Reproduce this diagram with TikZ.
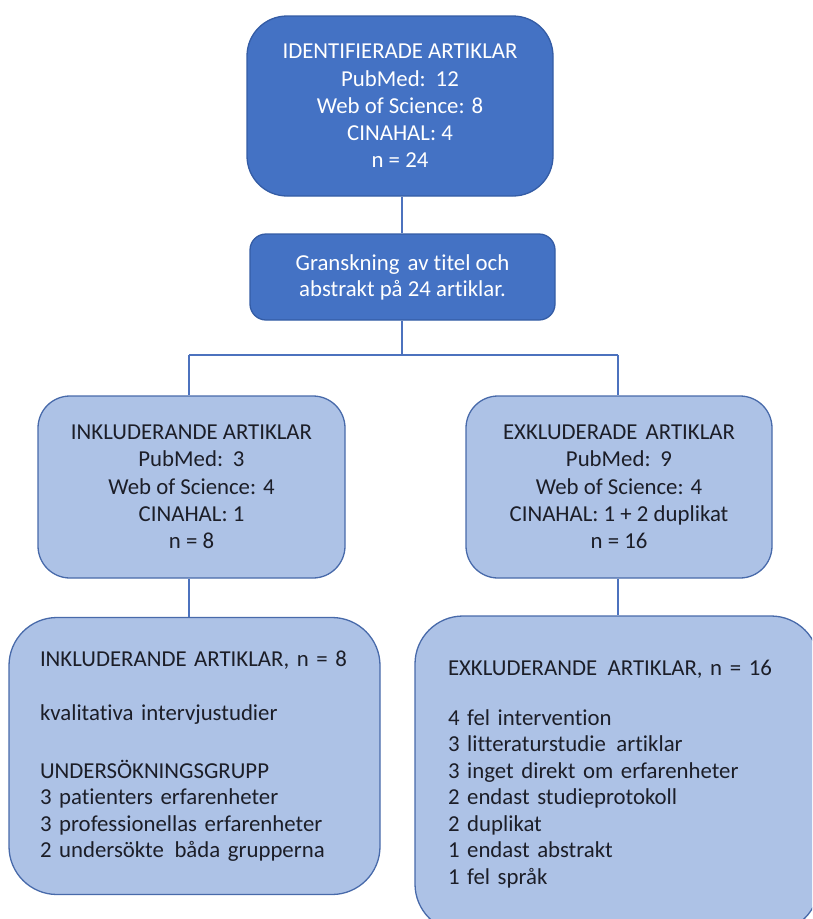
\documentclass[tikz,border=0pt]{standalone}
\usepackage{fontspec}
\setmainfont{Carlito}[RawFeature=-liga]
\definecolor{darkfill}{RGB}{68,114,196}
\definecolor{darkline}{RGB}{52,92,165}
\definecolor{lightfill}{RGB}{173,194,230}
\definecolor{lightline}{RGB}{72,106,170}
\definecolor{conn}{RGB}{76,114,190}
\definecolor{txt}{RGB}{28,30,40}
\newcommand{\gapsp}{\hspace{3pt}}
\tikzset{
  darkbox/.style={draw=darkline, line width=1.3pt, fill=darkfill, text=white, align=center, inner sep=0pt},
  lightbox/.style={draw=lightline, line width=1.3pt, fill=lightfill, text=txt, inner sep=0pt},
  link/.style={draw=conn, line width=1.6pt},
  txtsize/.style={font=\fontsize{22.8}{27.3}\selectfont}
}
\begin{document}
\begin{tikzpicture}[x=1pt,y=-1pt]
\useasboundingbox (0,0) rectangle (812,919);
\begin{scope}
\clip (0,0) rectangle (812,919);
\node[darkbox, txtsize, minimum width=306pt, minimum height=180pt, rounded corners=40pt] (b1) at (400,106)
  {IDENTIFIERADE ARTIKLAR\\PubMed: \gapsp12\\Web of Science: 8\\CINAHAL: 4\\n = 24};
\node[darkbox, font=\fontsize{22.8}{26}\selectfont, minimum width=305pt, minimum height=86pt, rounded corners=16pt] (b2) at (402.5,277)
  {Granskning \gapsp av titel och\\abstrakt på 24 artiklar.};
\node[lightbox, txtsize, align=center, minimum width=307pt, minimum height=182pt, rounded corners=32pt] (b3) at (191.5,487)
  {INKLUDERANDE ARTIKLAR\\PubMed: \gapsp3\\Web of Science: 4\\CINAHAL: 1\\n = 8};
\node[lightbox, txtsize, align=center, minimum width=306pt, minimum height=182pt, rounded corners=32pt] (b4) at (619,487)
  {EXKLUDERADE \gapsp ARTIKLAR\\PubMed: \gapsp9\\Web of Science: 4\\CINAHAL: 1 + 2 duplikat\\n = 16};
\node[lightbox, font=\fontsize{22.8}{26.5}\selectfont, align=left, text width=309pt, inner xsep=31pt, minimum width=371pt, minimum height=277pt, rounded corners=48pt] (b5) at (194.5,756)
  {INKLUDERANDE ARTIKLAR, n = 8\\[28pt]kvalitativa intervjustudier\\[31pt]UNDERSÖKNINGSGRUPP\\3 patienters erfarenheter\\3 professionellas erfarenheter\\2 undersökte \gapsp båda grupperna};
\node[lightbox, font=\fontsize{22.8}{26.5}\selectfont, align=left, text width=338pt, inner xsep=33pt, minimum width=404pt, minimum height=316pt, rounded corners=48pt] (b6) at (617,774)
  {EXKLUDERANDE \gapsp ARTIKLAR, n = 16\\[23pt]4 fel intervention\\3 litteraturstudie \gapsp artiklar\\3 inget direkt om erfarenheter\\2 endast studieprotokoll\\2 duplikat\\1 endast abstrakt\\1 fel språk};
\end{scope}
\coordinate (jt) at (402,355);
\coordinate (jl) at (189,355);
\coordinate (jr) at (618,355);
\draw[link] (b1.south -| jt) -- (b2.north -| jt);
\draw[link] (b2.south -| jt) -- (jt);
\draw[link] (jl) -- (jr);
\draw[link] (jl) -- (b3.north -| jl);
\draw[link] (jr) -- (b4.north -| jr);
\draw[link] (b3.south -| jl) -- (b5.north -| jl);
\draw[link] (b4.south -| jr) -- (b6.north -| jr);
\end{tikzpicture}
\end{document}
